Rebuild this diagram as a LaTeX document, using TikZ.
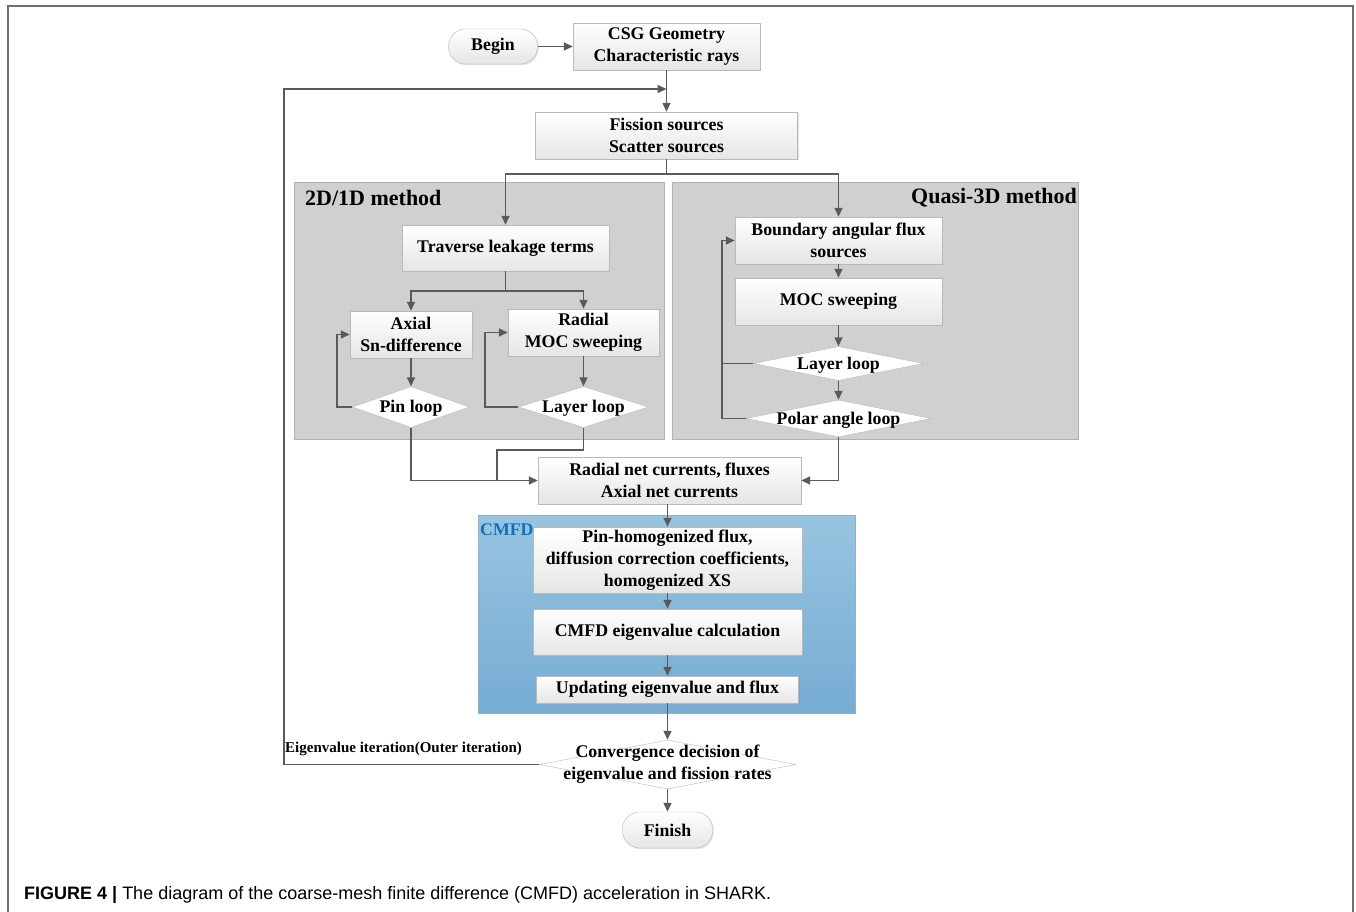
\documentclass[tikz,border=0pt]{standalone}
\usepackage{fontspec}
\setmainfont{Liberation Serif}
\newfontfamily\capfont{Liberation Sans}
\usetikzlibrary{arrows.meta,shapes.geometric,shadows}
\definecolor{arrowgray}{RGB}{90,90,90}
\definecolor{boxedge}{RGB}{185,185,185}
\definecolor{panelgray}{RGB}{208,208,208}
\definecolor{paneledge}{RGB}{178,178,178}
\definecolor{cmfdtop}{RGB}{152,196,224}
\definecolor{cmfdbot}{RGB}{118,172,211}
\definecolor{cmfdedge}{RGB}{150,175,195}
\definecolor{cmfdblue}{RGB}{16,112,192}
\definecolor{framegray}{RGB}{110,110,110}
\newcommand{\boxfont}{\fontsize{17.8}{22}\selectfont\bfseries}
\newcommand{\dtxt}[1]{\raisebox{-5.5pt}[0pt][0pt]{\makebox[0pt]{#1}}}
\newcommand{\dtxtii}[2]{\raisebox{-4pt}[0pt][0pt]{\makebox[0pt]{\begin{tabular}{@{}c@{}}#1\\#2\end{tabular}}}}
\tikzset{
  flowbox/.style={draw=boxedge, top color=white, bottom color=black!10, inner sep=0pt,
    align=center, font=\boxfont, drop shadow={shadow xshift=1.2pt, shadow yshift=-1.2pt, opacity=0.22}},
  pillbox/.style={flowbox, rounded corners=17pt},
  dia/.style={shape=diamond, draw=boxedge, fill=white, inner sep=0pt, font=\boxfont},
  panelbox/.style={draw=paneledge, fill=panelgray},
  arr/.style={draw=arrowgray, line width=1.5pt, -{Triangle[length=9pt,width=8pt]}},
  lin/.style={draw=arrowgray, line width=1.5pt},
}
\begin{document}
\begin{tikzpicture}[x=1pt,y=-1pt]
\useasboundingbox (0,0) rectangle (1356,912);
\fill[white] (0,0) rectangle (1356,912);
% outer frame
\draw[framegray, line width=1.5pt] (8,912) -- (8,6) -- (1353,6) -- (1353,912);

% panels
\draw[panelbox] (294,182) rectangle (664,439);
\draw[panelbox] (672,182) rectangle (1078,439);
\draw[draw=cmfdedge, top color=cmfdtop, bottom color=cmfdbot] (478,515) rectangle (855,713);
\node[anchor=west, font=\fontsize{22}{26}\selectfont\bfseries, inner sep=0pt] (t2d) at (305,198) {2D/1D method};
\node[anchor=east, font=\fontsize{22}{26}\selectfont\bfseries, inner sep=0pt] (tq3d) at (1077,198) {Quasi-3D method};
\node[anchor=west, font=\boxfont, text=cmfdblue, inner sep=0pt] (tcmfd) at (480,529.5) {CMFD};

% top
\node[pillbox, minimum width=89pt, minimum height=35pt] (begin) at (493,46.5) {Begin};
\node[flowbox, minimum width=187pt, minimum height=47pt] (csg) at (666.5,46.5) {CSG Geometry\\Characteristic rays};
\node[flowbox, minimum width=262pt, minimum height=47pt] (fis) at (666.5,135.5) {Fission sources\\Scatter sources};

% 2D/1D
\node[flowbox, minimum width=207pt, minimum height=46pt] (trav) at (505.5,248) {Traverse leakage terms};
\node[flowbox, minimum width=122pt, minimum height=47pt] (axial) at (411,334.5) {Axial\\Sn-difference};
\node[flowbox, minimum width=151pt, minimum height=47pt] (radial) at (583.5,332.5) {Radial\\MOC sweeping};
\node[dia, minimum width=117pt, minimum height=41pt] (pin) at (411,407) {\dtxt{Pin loop}};
\node[dia, minimum width=130pt, minimum height=41pt] (layer2) at (583.5,407) {\dtxt{Layer loop}};

% Quasi-3D
\node[flowbox, minimum width=207pt, minimum height=47pt] (bound) at (838.5,240.5) {Boundary angular flux\\sources};
\node[flowbox, minimum width=207pt, minimum height=47pt] (moc) at (838.5,301.5) {MOC sweeping};
\node[dia, minimum width=170pt, minimum height=34pt] (layerq) at (838.5,363.5) {\dtxt{Layer loop}};
\node[dia, minimum width=185pt, minimum height=37pt] (polar) at (838.5,418.5) {\dtxt{Polar angle loop}};

% middle
\node[flowbox, minimum width=263pt, minimum height=47pt] (rnet) at (669.5,480.5) {Radial net currents, fluxes\\Axial net currents};

% CMFD
\node[flowbox, minimum width=269pt, minimum height=66pt] (pinh) at (667.5,560) {Pin-homogenized flux,\\diffusion correction coefficients,\\homogenized XS};
\node[flowbox, minimum width=269pt, minimum height=46pt] (eig) at (667.5,632) {CMFD eigenvalue calculation};
\node[flowbox, minimum width=262pt, minimum height=27pt] (upd) at (667.5,689.5) {Updating eigenvalue and flux};

% bottom
\node[dia, minimum width=256pt, minimum height=49pt] (conv) at (667.5,764.5) {\dtxtii{Convergence decision of}{eigenvalue and fission rates}};
\node[pillbox, minimum width=90pt, minimum height=36pt] (finish) at (667.5,830) {Finish};
\node[anchor=west, font=\fontsize{15}{18}\selectfont\bfseries, inner sep=0pt] (eiglab) at (285,749) {Eigenvalue iteration(Outer iteration)};

% caption
\node[anchor=west, font=\capfont\fontsize{18}{21}\selectfont, inner sep=0pt] (cap) at (24,895) {\textbf{FIGURE 4 |} The diagram of the coarse-mesh finite difference (CMFD) acceleration in SHARK.};

% helper coordinates
\coordinate (fb) at (666.5,89);
\coordinate (fbx) at (284,0);
\coordinate (j1) at (666.5,174);
\coordinate (j2) at (505.5,291);
\coordinate (lx1) at (337,0);
\coordinate (lx2) at (485,0);
\coordinate (lqx) at (722,0);
\coordinate (jk) at (497,450);

% connectors
\draw[arr] (begin.east) -- (csg.west |- begin.east);
\draw[arr] (csg.south) -- (fis.north);
\draw[arr] (conv.west) -- (conv.west -| fbx) |- (fb);
\draw[lin] (fis.south) -- (j1);
\draw[arr] (j1) -| (trav.north);
\draw[arr] (j1) -| (bound.north);
\draw[lin] (trav.south) -- (j2);
\draw[arr] (j2) -| (axial.north);
\draw[arr] (j2) -| (radial.north);
\draw[arr] (axial.south) -- (pin.north);
\draw[arr] (radial.south) -- (layer2.north);
\draw[arr] (pin.west) -- (pin.west -| lx1) |- (axial.west);
\draw[arr] (layer2.west) -- (layer2.west -| lx2) |- (radial.west);
\draw[arr] (pin.south) |- (rnet.west);
\draw[lin] (layer2.south) |- (jk) -- (jk |- rnet.west);
\draw[arr] (bound.south) -- (moc.north);
\draw[arr] (moc.south) -- (layerq.north);
\draw[arr] (layerq.south) -- (polar.north);
\draw[lin] (layerq.west) -- (layerq.west -| lqx);
\draw[arr] (polar.west) -- (polar.west -| lqx) |- (bound.west);
\draw[arr] (polar.south) |- (rnet.east);
\draw[arr] (pinh.north |- rnet.south) -- (pinh.north);
\draw[arr] (pinh.south) -- (eig.north);
\draw[arr] (eig.south) -- (upd.north);
\draw[arr] (upd.south) -- (conv.north);
\draw[arr] (conv.south) -- (finish.north);
\end{tikzpicture}
\end{document}
